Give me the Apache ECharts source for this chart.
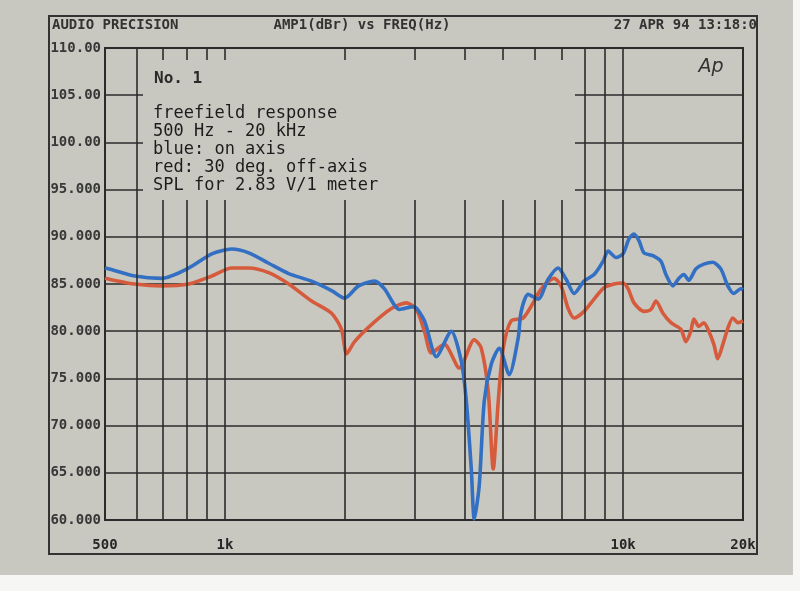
<!DOCTYPE html>
<html>
<head>
<meta charset="utf-8">
<script src="https://cdn.jsdelivr.net/npm/echarts@6/dist/echarts.min.js"></script>
<style>
  html, body { margin: 0; padding: 0; background: #f6f6f4; }
  #chart { width: 800px; height: 591px; }
</style>
</head>
<body>
<div id="chart"></div>
<script>
// ---- data ----
const freqBlue = [500, 512, 594, 694, 812, 927, 1040, 1148, 1288, 1446, 1651, 1853, 1998, 2166, 2375, 2515, 2744, 2975, 3170, 3397, 3704, 3924, 4039, 4157, 4229, 4353, 4480, 4665, 4886, 5175, 5452, 5547, 5774, 6120, 6483, 6866, 7194, 7534, 7979, 8454, 8906, 9166, 9600, 9996, 10350, 10650, 10960, 11280, 11880, 12445, 12810, 13340, 13810, 14210, 14625, 15225, 15950, 16800, 17595, 18320, 18965, 19750, 20000];
const dbBlue   = [86.7, 86.6, 85.85, 85.6, 86.7, 88.2, 88.7, 88.3, 87.2, 86.1, 85.3, 84.3, 83.5, 84.8, 85.3, 84.5, 82.3, 82.6, 81.1, 77.3, 80.0, 76.8, 72.6, 65.4, 60.1, 63.7, 72.6, 76.5, 78.2, 75.4, 79.3, 82.1, 83.9, 83.4, 85.5, 86.7, 85.5, 84.0, 85.3, 86.0, 87.4, 88.5, 87.8, 88.2, 89.8, 90.3, 89.6, 88.3, 88.0, 87.4, 86.0, 84.8, 85.6, 86.0, 85.4, 86.6, 87.1, 87.3, 86.6, 84.8, 84.0, 84.5, 84.4];

const freqRed = [500, 512, 594, 694, 812, 927, 1040, 1148, 1288, 1446, 1651, 1853, 1963, 2021, 2117, 2334, 2620, 2857, 3027, 3170, 3300, 3558, 3879, 4229, 4404, 4585, 4719, 4858, 5000, 5236, 5612, 5945, 6120, 6408, 6710, 6989, 7278, 7534, 7979, 8454, 8956, 9489, 9996, 10290, 10650, 11280, 11745, 12090, 12590, 13185, 13970, 14375, 14795, 15055, 15495, 15950, 16415, 16900, 17290, 17800, 18320, 18855, 19410, 20000];
const dbRed   = [85.6, 85.5, 85.0, 84.8, 85.0, 85.85, 86.7, 86.7, 86.2, 85.0, 83.2, 81.9, 80.2, 77.6, 78.9, 80.7, 82.4, 83.0, 82.3, 80.0, 77.7, 78.6, 76.1, 79.1, 78.2, 73.6, 65.4, 72.6, 78.2, 81.1, 81.4, 83.0, 84.0, 85.1, 85.6, 84.8, 82.4, 81.4, 82.1, 83.4, 84.6, 85.0, 85.1, 84.5, 83.0, 82.1, 82.3, 83.2, 81.9, 80.9, 80.2, 78.9, 80.0, 81.3, 80.5, 80.9, 80.0, 78.6, 77.1, 78.6, 80.3, 81.4, 80.9, 81.1];

const gridFreqs = [600, 700, 800, 900, 1000, 2000, 3000, 4000, 5000, 6000, 7000, 8000, 9000, 10000];
const xTickValues = [500, 1000, 10000, 20000];
const xTickLabels = ['500', '1k', '10k', '20k'];
const yTickValues = [60, 65, 70, 75, 80, 85, 90, 95, 100, 105, 110];
const yTickLabels = ['60.000', '65.000', '70.000', '75.000', '80.000', '85.000', '90.000', '95.000', '100.00', '105.00', '110.00'];

const headerLeft = 'AUDIO PRECISION';
const headerMid = 'AMP1(dBr) vs FREQ(Hz)';
const headerRight = '27 APR 94 13:18:0';
const noteLines = ['freefield response', '500 Hz - 20 kHz', 'blue: on axis', 'red: 30 deg. off-axis', 'SPL for 2.83 V/1 meter'];

// ---- styles ----
const PAPER = '#c9c8c0';
const INK = '#2b2b2b';
const MONO = '"DejaVu Sans Mono", "Liberation Mono", monospace';
const BLUE = '#336fc2';
const RED = '#d65b3d';

const zip = (xs, ys) => xs.map((x, i) => [x, ys[i]]);

const tickLabel = k => ({ show: true, formatter: xTickLabels[k], opacity: 1, color: '#262626' });
const lineItems = gridFreqs.map(f => {
  const k = xTickValues.indexOf(f);
  const item = { xAxis: f };
  if (k >= 0) item.label = tickLabel(k);
  return item;
});
xTickValues.forEach((f, k) => {
  if (gridFreqs.indexOf(f) < 0) {
    lineItems.push({ xAxis: f, lineStyle: { color: 'rgba(0,0,0,0)' }, label: tickLabel(k) });
  }
});

const chart = echarts.init(document.getElementById('chart'), null, { renderer: 'canvas' });

const option = {
  backgroundColor: 'transparent',
  animation: false,
  grid: {
    left: 105, right: 57, top: 48, bottom: 71,
    show: true, backgroundColor: PAPER, borderColor: INK, borderWidth: 2
  },
  xAxis: {
    type: 'log', logBase: 10, min: 499.95, max: 20002,
    axisLine: { show: false }, axisTick: { show: false },
    axisLabel: { show: false }, splitLine: { show: false }, minorSplitLine: { show: false }
  },
  yAxis: {
    type: 'value', min: 60, max: 110, interval: 5,
    axisLine: { show: false }, axisTick: { show: false },
    axisLabel: {
      margin: 4, color: '#383838', fontFamily: MONO, fontSize: 14, fontWeight: 'bold',
      formatter: v => { const k = yTickValues.indexOf(Math.round(v)); return k >= 0 ? yTickLabels[k] : ''; }
    },
    splitLine: { show: true, lineStyle: { color: INK, width: 1.6 } }
  },
  series: [
    {
      type: 'line', name: 'red', data: zip(freqRed, dbRed), showSymbol: false, smooth: 0.25,
      lineStyle: { color: RED, width: 3.6 }, z: 3
    },
    {
      type: 'line', name: 'blue', data: zip(freqBlue, dbBlue), showSymbol: false, smooth: 0.25,
      lineStyle: { color: BLUE, width: 3.6 }, z: 4,
      markLine: {
        silent: true, symbol: 'none', animation: false,
        lineStyle: { color: INK, width: 1.6, type: 'solid' },
        label: {
          show: false, position: 'start', distance: 18,
          color: '#262626', fontFamily: MONO, fontSize: 14, fontWeight: 'bold'
        },
        emphasis: { disabled: true },
        data: lineItems
      }
    }
  ],
  graphic: [
    { type: 'rect', z: -10, silent: true, shape: { x: 0, y: 0, width: 793, height: 575 }, style: { fill: PAPER } },
    { type: 'rect', z: 50, silent: true, shape: { x: 49, y: 16, width: 708, height: 538 }, style: { fill: 'none', stroke: '#333', lineWidth: 2 } },
    { type: 'rect', z: 50, silent: true, shape: { x: 143, y: 60, width: 432, height: 140 }, style: { fill: PAPER } },
    { type: 'text', z: 51, silent: true, x: 52, y: 25, style: { text: headerLeft, font: 'bold 14px ' + MONO, fill: '#333', textVerticalAlign: 'middle' } },
    { type: 'text', z: 51, silent: true, x: 362, y: 25, style: { text: headerMid, font: 'bold 14px ' + MONO, fill: '#333', textAlign: 'center', textVerticalAlign: 'middle' } },
    { type: 'text', z: 51, silent: true, x: 757, y: 25, style: { text: headerRight, font: 'bold 14px ' + MONO, fill: '#333', textAlign: 'right', textVerticalAlign: 'middle' } },
    { type: 'text', z: 51, silent: true, x: 154, y: 79, style: { text: 'No. 1', font: 'bold 16px ' + MONO, fill: '#2a2a2a', textVerticalAlign: 'middle' } },
    { type: 'text', z: 51, silent: true, x: 711, y: 67, style: { text: 'Ap', font: 'italic 19px "DejaVu Sans", sans-serif', fill: '#333', textAlign: 'center', textVerticalAlign: 'middle' } }
  ].concat(noteLines.map((t, i) => ({
    type: 'text', z: 51, silent: true, x: 153, y: 114 + i * 18,
    style: { text: t, font: '17px ' + MONO, fill: '#1c1c1c', textVerticalAlign: 'middle' }
  })))
};

chart.setOption(option);
</script>
</body>
</html>
